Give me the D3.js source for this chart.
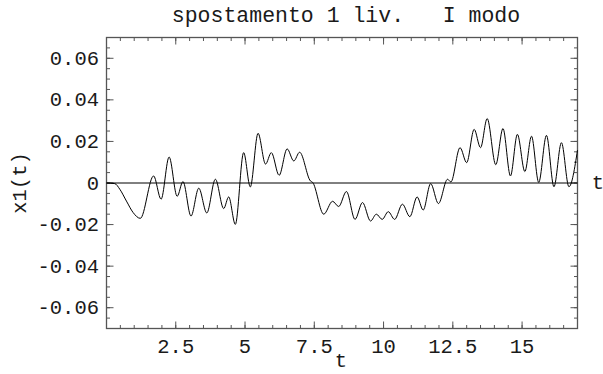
<!DOCTYPE html>
<html>
<head>
<meta charset="utf-8">
<script src="https://cdn.jsdelivr.net/npm/d3@7"></script>
<style>
  html, body { margin: 0; padding: 0; background: #fff; }
  svg { display: block; }
  text { font-family: "Liberation Mono", "Courier New", monospace; fill: #1a1a1a; white-space: pre; }
</style>
</head>
<body>
<svg id="chart" width="603" height="374"></svg>
<script>
// Displacement of level 1, first mode: turning points and a few shape points of x1(t)
const tValues = [
  0, 0.3, 0.48, 0.72, 0.96, 1.22, 1.70, 1.97, 2.26, 2.55, 2.76, 3.05, 3.33, 3.62,
  3.93, 4.23, 4.41, 4.65, 4.95, 5.19, 5.47, 5.74, 5.95, 6.23, 6.52, 6.76, 6.97,
  7.36, 7.44, 7.84, 8.16, 8.38, 8.66, 8.97, 9.24, 9.53, 9.74, 9.95, 10.17, 10.40,
  10.68, 10.95, 11.21, 11.43, 11.70, 11.98, 12.31, 12.43, 12.76, 13.00, 13.27,
  13.50, 13.74, 14.05, 14.31, 14.58, 14.83, 15.10, 15.34, 15.60, 15.88, 16.15,
  16.42, 16.69, 17.0
];
const x1Values = [
  0, -0.0003, -0.003, -0.0087, -0.0142, -0.017, 0.0034, -0.0078, 0.0125, -0.0064,
  0.0007, -0.0159, -0.0025, -0.0144, 0.0018, -0.0123, -0.0067, -0.0199, 0.0146,
  -0.0019, 0.0239, 0.0091, 0.0146, 0.0037, 0.0164, 0.0106, 0.0148,
  0.0010, 0.0003, -0.0150, -0.0088, -0.0113, -0.0041, -0.0175, -0.0094, -0.0183,
  -0.0150, -0.0175, -0.0138, -0.0175, -0.0102, -0.0162, -0.0067, -0.0130, -0.0003,
  -0.0099, 0.0018, 0.0005, 0.0170, 0.0098, 0.0258, 0.0170, 0.0310, 0.0088,
  0.0262, 0.0034, 0.0234, 0.0055, 0.0225, 0.0003, 0.0229, -0.0018, 0.0194,
  -0.0018, 0.0158
];

const xTicks = [2.5, 5, 7.5, 10, 12.5, 15];
const xTickLabels = ["2.5", "5", "7.5", "10", "12.5", "15"];
const yTicks = [-0.06, -0.04, -0.02, 0, 0.02, 0.04, 0.06];
const yTickLabels = ["-0.06", "-0.04", "-0.02", "0", "0.02", "0.04", "0.06"];
const xMinorTicks = d3.range(0, 17.01, 0.5);
const yMinorTicks = d3.range(-0.07, 0.0701, 0.005);

const titleText = "spostamento 1 liv.   I modo";
const xLabel = "t";
const yLabel = "x1(t)";
const axisLabel = "t";

const svg = d3.select("#chart");
const frameL = 106.5, frameR = 577.5, frameT = 37.5, frameB = 328.5;

const x = d3.scaleLinear().domain([0, 17]).range([frameL, frameR]);
const y = d3.scaleLinear().domain([-0.07, 0.07]).range([frameB, frameT]);

const frameColor = "#555";
const fontSize = 20.5;

// Frame ticks on all four sides, pointing inward
const tg = svg.append("g").attr("stroke", frameColor).attr("stroke-width", 1);
function tickSet(vals, len, scale, side) {
  vals.forEach(v => {
    const p = scale(v);
    if (side === "bottom") tg.append("line").attr("x1", p).attr("x2", p).attr("y1", frameB).attr("y2", frameB - len);
    if (side === "top") tg.append("line").attr("x1", p).attr("x2", p).attr("y1", frameT).attr("y2", frameT + len);
    if (side === "left") tg.append("line").attr("y1", p).attr("y2", p).attr("x1", frameL).attr("x2", frameL + len);
    if (side === "right") tg.append("line").attr("y1", p).attr("y2", p).attr("x1", frameR).attr("x2", frameR - len);
  });
}
["bottom", "top"].forEach(s => { tickSet(xMinorTicks, 3.5, x, s); tickSet(xTicks, 7, x, s); });
["left", "right"].forEach(s => { tickSet(yMinorTicks, 3.5, y, s); tickSet(yTicks, 7, y, s); });

svg.append("rect")
  .attr("x", frameL).attr("y", frameT)
  .attr("width", frameR - frameL).attr("height", frameB - frameT)
  .attr("fill", "none").attr("stroke", frameColor).attr("stroke-width", 1.3);

// Horizontal axis through the origin
svg.append("line")
  .attr("x1", frameL).attr("x2", frameR)
  .attr("y1", y(0)).attr("y2", y(0))
  .attr("stroke", "#000").attr("stroke-width", 1);

// The curve
const pts = tValues.map((t, i) => [t, x1Values[i]]);
const line = d3.line().x(d => x(d[0])).y(d => y(d[1])).curve(d3.curveMonotoneX);
svg.append("path")
  .attr("d", line(pts))
  .attr("fill", "none").attr("stroke", "#000").attr("stroke-width", 1);

// Tick labels
svg.append("g").selectAll("text").data(xTicks).join("text")
  .attr("x", d => x(d)).attr("y", 352.5)
  .attr("text-anchor", "middle")
  .attr("font-size", fontSize)
  .text((d, i) => xTickLabels[i]);

svg.append("g").selectAll("text").data(yTicks).join("text")
  .attr("x", 99).attr("y", d => y(d) + 6.5)
  .attr("text-anchor", "end")
  .attr("font-size", fontSize)
  .text((d, i) => yTickLabels[i]);

// Title and labels
svg.append("text").attr("x", 346).attr("y", 22)
  .attr("text-anchor", "middle").attr("font-size", 21.5)
  .text(titleText);
svg.append("text").attr("x", 341).attr("y", 367)
  .attr("text-anchor", "middle").attr("font-size", fontSize)
  .text(xLabel);
svg.append("text").attr("x", 598).attr("y", 189)
  .attr("text-anchor", "middle").attr("font-size", fontSize)
  .text(axisLabel);
svg.append("text").attr("transform", "translate(26,183) rotate(-90)")
  .attr("text-anchor", "middle").attr("font-size", fontSize)
  .text(yLabel);
</script>
</body>
</html>
